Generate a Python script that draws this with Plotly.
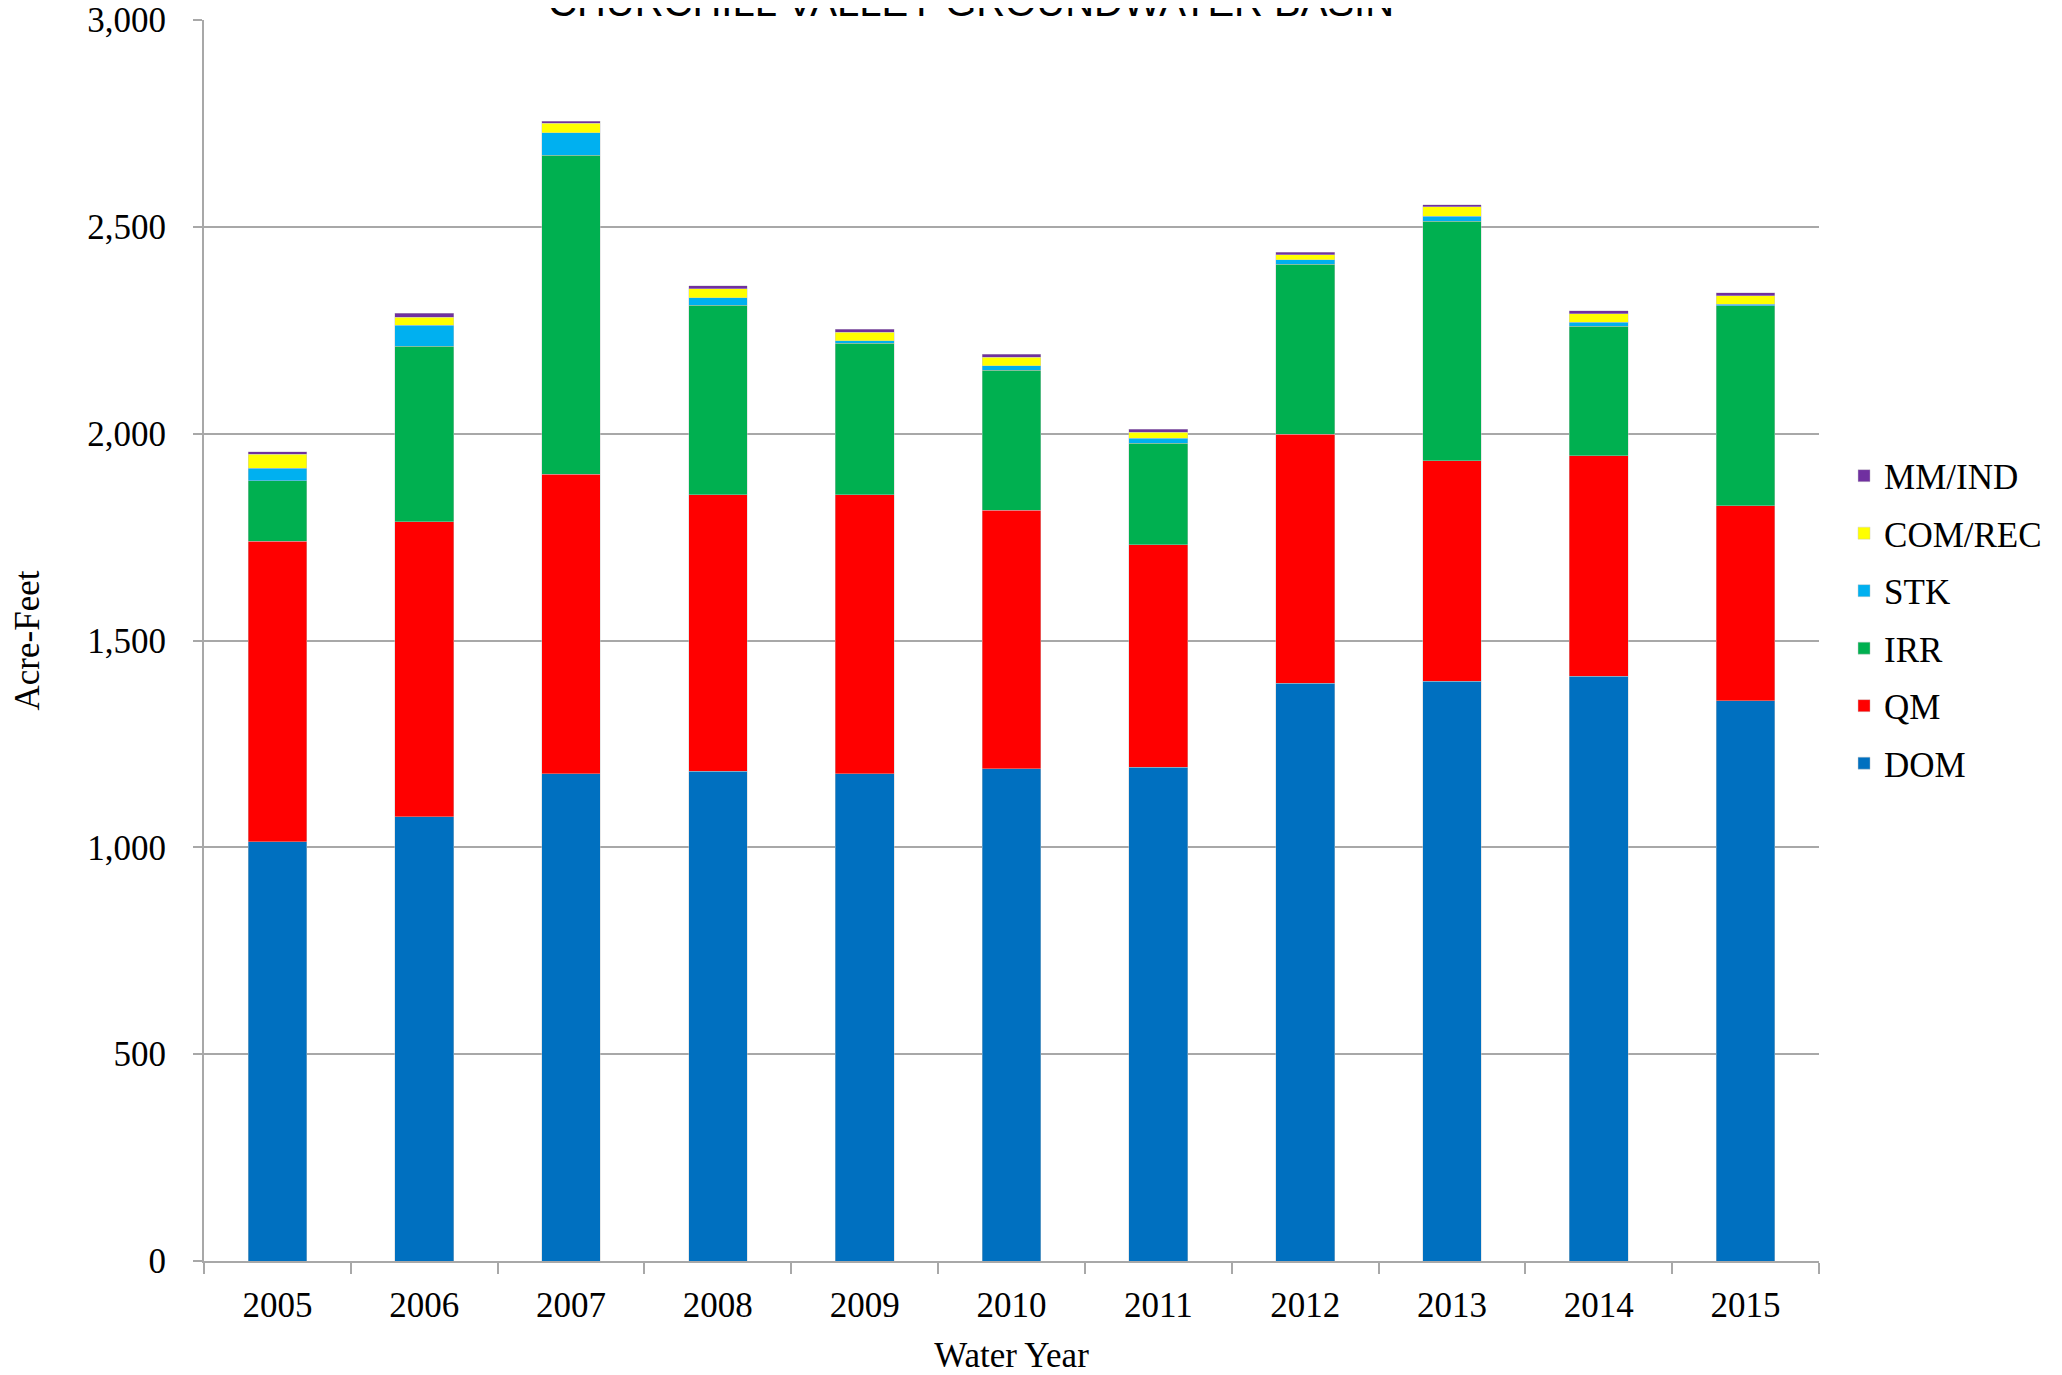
import plotly.graph_objects as go

years = ["2005", "2006", "2007", "2008", "2009", "2010", "2011", "2012", "2013", "2014", "2015"]

dom = [1013, 1074, 1178, 1184, 1178, 1190, 1194, 1397, 1402, 1414, 1354]
qm = [727, 713, 724, 668, 674, 625, 537, 602, 533, 533, 472]
irr = [146, 424, 771, 459, 366, 338, 246, 410, 579, 313, 483]
stk = [31, 51, 54, 18, 7, 11, 12, 12, 12, 9, 4]
com_rec = [33, 19, 24, 21, 20, 21, 15, 12, 23, 21, 21]
mm_ind = [6, 10, 4, 7, 7, 7, 7, 5, 4, 7, 7]

y_ticks = [0, 500, 1000, 1500, 2000, 2500, 3000]

series = [
    ("DOM", dom, "#0070C0"),
    ("QM", qm, "#FF0000"),
    ("IRR", irr, "#00B050"),
    ("STK", stk, "#00B0F0"),
    ("COM/REC", com_rec, "#FFFF00"),
    ("MM/IND", mm_ind, "#7030A0"),
]

fig = go.Figure()
n = len(series)
for i, (name, vals, color) in enumerate(series):
    fig.add_trace(go.Bar(
        x=years, y=vals, name=name, legendgroup=name, legendrank=n - i,
        marker=dict(color=color, line=dict(width=0.6, color="rgba(200,200,200,0.7)")),
        width=0.4,
    ))

serif = "Liberation Serif, Times New Roman, serif"
grid = "#A8A8A8"

fig.update_layout(
    barmode="stack",
    width=2054, height=1367,
    paper_bgcolor="white", plot_bgcolor="white",
    margin=dict(l=196, r=243, t=12, b=114, autoexpand=False),
    font=dict(family=serif, size=35, color="black"),
    showlegend=True,
    legend=dict(
        x=1.0155, xanchor="left", y=0.517, yanchor="middle",
        traceorder="grouped", tracegroupgap=9,
        font=dict(family=serif, size=35, color="black"),
        bgcolor="rgba(0,0,0,0)",
    ),
    xaxis=dict(
        type="category", tickson="boundaries", ticks="outside", ticklen=11,
        tickcolor=grid, tickwidth=1.5, showline=True, linecolor=grid, linewidth=2,
        showgrid=False, ticklabelstandoff=12, ticklabeloverflow="allow",
        tickfont=dict(family=serif, size=35, color="black"),
        title=dict(text="Water Year", font=dict(family=serif, size=35, color="black"), standoff=19),
    ),
    yaxis=dict(
        range=[0, 3000], tickvals=y_ticks, tickformat=",",
        ticks="outside", ticklen=9, tickcolor=grid, tickwidth=1.5,
        showline=True, linecolor=grid, linewidth=2,
        showgrid=True, gridcolor=grid, gridwidth=2, zeroline=False,
        ticklabelstandoff=20, ticklabeloverflow="allow",
        tickfont=dict(family=serif, size=35, color="black"),
        title=dict(text="Acre-Feet", font=dict(family=serif, size=35, color="black"), standoff=40),
    ),
    annotations=[dict(
        text="CHURCHILL VALLEY GROUNDWATER BASIN",
        xref="paper", yref="paper", x=0.475, y=1, xanchor="center", yanchor="bottom",
        yshift=-6, showarrow=False,
        font=dict(family="Liberation Sans Narrow, Arial Narrow, Liberation Sans, sans-serif", size=40, color="black"),
    )],
)

fig.write_html("out.html")
